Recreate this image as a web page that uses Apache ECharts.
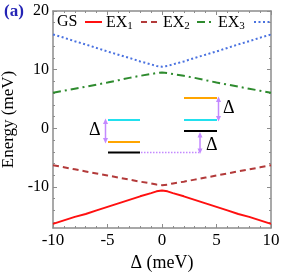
<!DOCTYPE html>
<html><head><meta charset="utf-8">
<script src="https://cdn.jsdelivr.net/npm/echarts@6/dist/echarts.min.js"></script>
<style>html,body{margin:0;padding:0;background:#fff}#c{width:287px;height:273px}</style>
</head><body><div id="c"></div>
<script>
const xs = [-10,-9,-8,-7,-6,-5,-4,-3,-2,-1,-0.5,0,0.5,1,2,3,4,5,6,7,8,9,10];
const gs  = [16.0,15.45,14.85,14.3,13.7,13.1,12.55,12.0,11.4,10.9,10.62,10.5,10.62,10.9,11.4,12.0,12.55,13.1,13.7,14.3,14.85,15.45,16.0];
const ex1 = [-16.3,-15.7,-15.1,-14.6,-14.0,-13.4,-12.8,-12.2,-11.6,-11.05,-10.75,-10.6,-10.75,-11.05,-11.6,-12.2,-12.8,-13.4,-14.0,-14.6,-15.1,-15.7,-16.3];
const ex2 = [-6.3,-6.65,-7.0,-7.35,-7.7,-8.05,-8.4,-8.75,-9.1,-9.4,-9.6,-9.7,-9.6,-9.4,-9.1,-8.75,-8.4,-8.05,-7.7,-7.35,-7.0,-6.65,-6.3];
const ex3 = [6.05,6.4,6.75,7.1,7.45,7.8,8.2,8.6,8.95,9.25,9.42,9.5,9.42,9.25,8.95,8.6,8.2,7.8,7.45,7.1,6.75,6.4,6.05];
const yTicks = [-10,0,10,20];
const yMinor = [-16,-14,-12,-8,-6,-4,-2,2,4,6,8,12,14,16,18];
const xTicks = [-10,-5,0,5,10];

const F = 'Liberation Serif';
const pair = a => xs.map((x,i)=>[x,a[i]]);
const axCol = '#8c8c8c';
const chart = echarts.init(document.getElementById('c'));
const yBase = {type:'value', min:-17, max:20, splitLine:{show:false}};
chart.setOption({
  animation:false,
  grid:{left:53,right:16,top:11,bottom:45,containLabel:false,outerBoundsMode:'none'},
  xAxis:[
    {type:'value',min:-10,max:10,interval:5,position:'bottom',
     name:'Δ (meV)',nameLocation:'middle',nameGap:25,nameTextStyle:{fontFamily:F,fontSize:18,color:'#000'},
     axisLine:{onZero:false,lineStyle:{color:axCol,width:1.5}},
     axisTick:{inside:true,length:4,lineStyle:{color:axCol}},
     minorTick:{show:true,splitNumber:5,length:2,lineStyle:{color:axCol}},
     axisLabel:{fontFamily:F,fontSize:17,color:'#000',margin:4,showMinLabel:true,showMaxLabel:true},
     splitLine:{show:false}},
    {type:'value',min:-10,max:10,interval:5,position:'top',
     axisLine:{onZero:false,lineStyle:{color:axCol,width:1.5}},
     axisTick:{inside:true,length:4,lineStyle:{color:axCol}},
     minorTick:{show:true,splitNumber:5,length:2,lineStyle:{color:axCol}},
     axisLabel:{show:false},splitLine:{show:false}}
  ],
  yAxis:[
    Object.assign({},yBase,{position:'left',
     name:'Energy (meV)',nameLocation:'middle',nameGap:28,nameTextStyle:{fontFamily:F,fontSize:17,color:'#000'},
     axisLine:{onZero:false,lineStyle:{color:axCol,width:1.5}},
     axisTick:{inside:true,length:4,lineStyle:{color:axCol},customValues:yTicks},
     axisLabel:{fontFamily:F,fontSize:16,color:'#000',margin:4,customValues:yTicks}}),
    Object.assign({},yBase,{position:'left',
     axisLine:{show:false,onZero:false},
     axisTick:{inside:true,length:2,lineStyle:{color:axCol},customValues:yMinor},
     axisLabel:{show:false,customValues:yMinor}}),
    Object.assign({},yBase,{position:'right',
     axisLine:{show:true,onZero:false,lineStyle:{color:axCol,width:1.5}},
     axisTick:{inside:true,length:4,lineStyle:{color:axCol},customValues:yTicks},
     axisLabel:{show:false,customValues:yTicks}}),
    Object.assign({},yBase,{position:'right',
     axisLine:{show:false,onZero:false},
     axisTick:{inside:true,length:2,lineStyle:{color:axCol},customValues:yMinor},
     axisLabel:{show:false,customValues:yMinor}})
  ],
  series:[
    {name:'GS',type:'line',data:pair(gs),showSymbol:false,lineStyle:{color:'#4a72e0',width:2,type:[2,2.5]}},
    {name:'EX1',type:'line',data:pair(ex1),showSymbol:false,lineStyle:{color:'#ff1010',width:2}},
    {name:'EX2',type:'line',data:pair(ex2),showSymbol:false,lineStyle:{color:'#b33a3a',width:2,type:[6,4]}},
    {name:'EX3',type:'line',data:pair(ex3),showSymbol:false,lineStyle:{color:'#2e8b2e',width:2,type:[8,4,2,4]}}
  ],
  graphic:[
    {type:'text',left:4,top:3,style:{text:'(a)',font:'bold 17px "Liberation Serif"',fill:'#2323b5'}},
    // legend
    {type:'text',x:57,y:14,style:{text:'GS',font:'16px "Liberation Serif"',fill:'#000'}},
    {type:'line',shape:{x1:85,y1:22,x2:102,y2:22},style:{stroke:'#ff1010',lineWidth:2}},
    {type:'text',x:106,y:14,style:{text:'{a|EX}{s|1}',rich:{a:{font:'16px "Liberation Serif"',fill:'#000'},s:{font:'11px "Liberation Serif"',fill:'#000',padding:[7,0,0,0]}}}},
    {type:'line',shape:{x1:141,y1:22,x2:158,y2:22},style:{stroke:'#b33a3a',lineWidth:2,lineDash:[6,4]}},
    {type:'text',x:163,y:14,style:{text:'{a|EX}{s|2}',rich:{a:{font:'16px "Liberation Serif"',fill:'#000'},s:{font:'11px "Liberation Serif"',fill:'#000',padding:[7,0,0,0]}}}},
    {type:'line',shape:{x1:197,y1:22,x2:214,y2:22},style:{stroke:'#2e8b2e',lineWidth:2,lineDash:[8,4,2,4]}},
    {type:'text',x:218,y:14,style:{text:'{a|EX}{s|3}',rich:{a:{font:'16px "Liberation Serif"',fill:'#000'},s:{font:'11px "Liberation Serif"',fill:'#000',padding:[7,0,0,0]}}}},
    {type:'line',shape:{x1:254,y1:22,x2:271,y2:22},style:{stroke:'#4a72e0',lineWidth:2,lineDash:[2,2.5]}},
    // inset schematic - left
    {type:'line',shape:{x1:108,y1:120,x2:140,y2:120},style:{stroke:'#22e0ee',lineWidth:2}},
    {type:'line',shape:{x1:108,y1:142,x2:140,y2:142},style:{stroke:'#ffa500',lineWidth:2}},
    {type:'line',shape:{x1:108,y1:152.5,x2:140,y2:152.5},style:{stroke:'#000',lineWidth:2}},
    {type:'line',shape:{x1:105.5,y1:122,x2:105.5,y2:140},style:{stroke:'#c389ff',lineWidth:1.5}},
    {type:'polygon',shape:{points:[[105.5,118.5],[103,124],[108,124]]},style:{fill:'#c389ff'}},
    {type:'polygon',shape:{points:[[105.5,143.5],[103,138],[108,138]]},style:{fill:'#c389ff'}},
    {type:'text',x:89,y:121,style:{text:'Δ',font:'18px "Liberation Serif"',fill:'#000'}},
    // right
    {type:'line',shape:{x1:184,y1:98,x2:217,y2:98},style:{stroke:'#ffa500',lineWidth:2}},
    {type:'line',shape:{x1:184,y1:120,x2:217,y2:120},style:{stroke:'#22e0ee',lineWidth:2}},
    {type:'line',shape:{x1:184,y1:131,x2:217,y2:131},style:{stroke:'#000',lineWidth:2}},
    {type:'line',shape:{x1:218.5,y1:100,x2:218.5,y2:118},style:{stroke:'#c389ff',lineWidth:1.5}},
    {type:'polygon',shape:{points:[[218.5,96.5],[216,102],[221,102]]},style:{fill:'#c389ff'}},
    {type:'polygon',shape:{points:[[218.5,121.5],[216,116],[221,116]]},style:{fill:'#c389ff'}},
    {type:'text',x:223,y:99,style:{text:'Δ',font:'18px "Liberation Serif"',fill:'#000'}},
    // connector
    {type:'line',shape:{x1:141,y1:152.5,x2:199,y2:152.5},style:{stroke:'#c389ff',lineWidth:1.5,lineDash:[1.5,1.5]}},
    {type:'line',shape:{x1:200,y1:135,x2:200,y2:150},style:{stroke:'#c389ff',lineWidth:1.5}},
    {type:'polygon',shape:{points:[[200,132],[197.5,137.5],[202.5,137.5]]},style:{fill:'#c389ff'}},
    {type:'polygon',shape:{points:[[200,154],[197.5,148.5],[202.5,148.5]]},style:{fill:'#c389ff'}},
    {type:'text',x:206,y:136,style:{text:'Δ',font:'18px "Liberation Serif"',fill:'#000'}}
  ]
});
</script></body></html>
